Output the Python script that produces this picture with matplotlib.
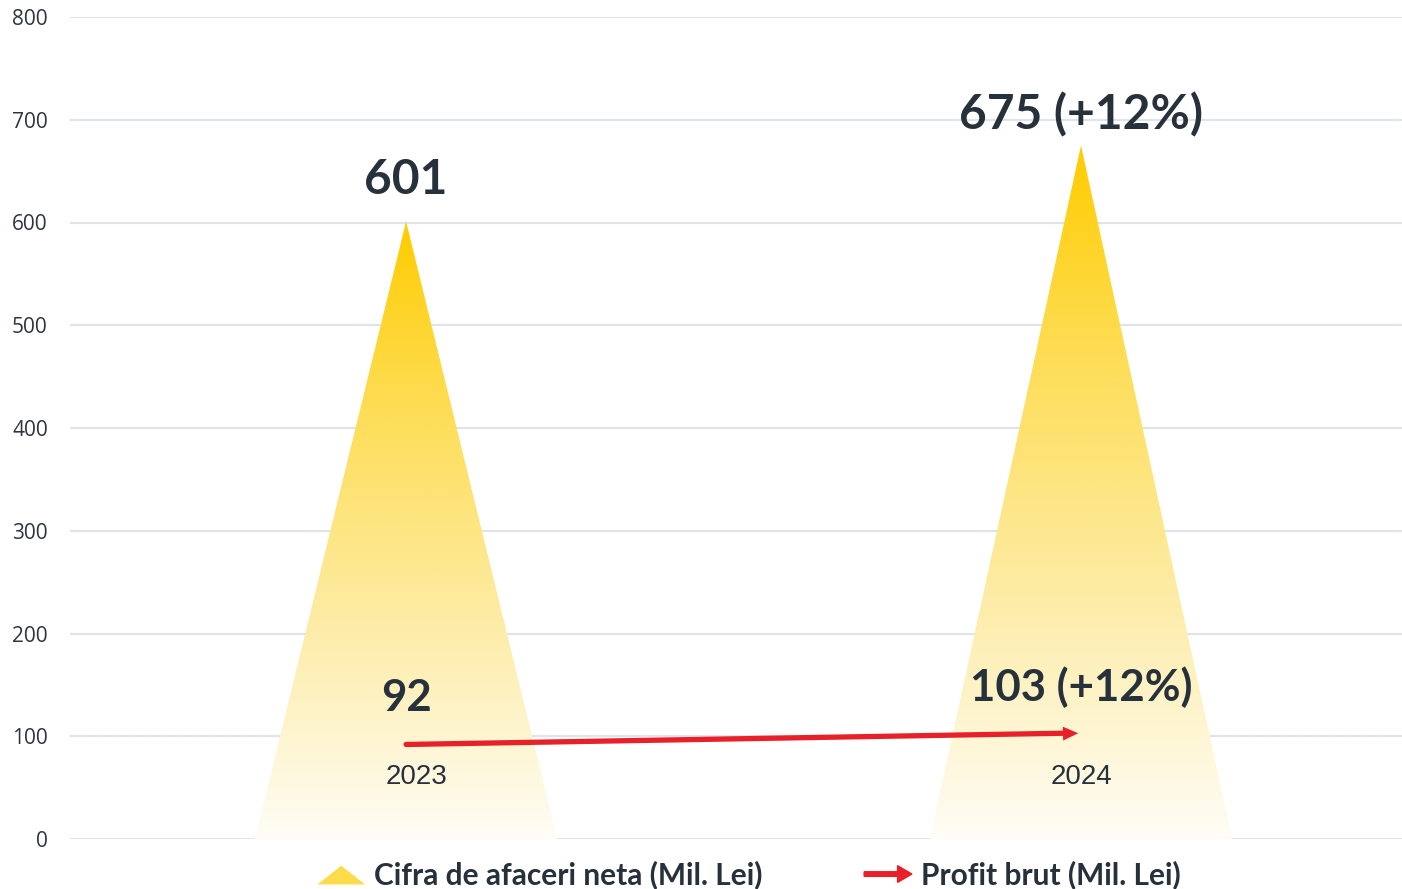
import numpy as np
import matplotlib.pyplot as plt
from matplotlib.patches import Polygon, FancyArrow
from matplotlib.colors import LinearSegmentedColormap
from matplotlib.legend_handler import HandlerPatch

# data
years = ['2023', '2024']
cifra = [601, 675]
profit = [92, 103]
cifra_labels = ['601', '675 (+12%)']
profit_labels = ['92', '103 (+12%)']
yticks = [0, 100, 200, 300, 400, 500, 600, 700, 800]

txt = '#27313b'
fig = plt.figure(figsize=(14.02, 8.89), dpi=100)
ax = fig.add_axes([70 / 1402, 50 / 889, 1332 / 1402, 822 / 889])

cmap = LinearSegmentedColormap.from_list(
    'gold', [(0.0, '#fffdf6'), (0.35, '#fdeca6'), (0.7, '#fddd55'), (1.0, '#ffcc00')])
hw = 0.224
xs = np.arange(len(years))
for x, v in zip(xs, cifra):
    tri = Polygon([(x - hw, 0), (x, v), (x + hw, 0)], closed=True,
                  facecolor='none', edgecolor='none')
    ax.add_patch(tri)
    grad = np.linspace(0, 1, 256).reshape(-1, 1)
    im = ax.imshow(grad, cmap=cmap, origin='lower', aspect='auto',
                   extent=[x - hw, x + hw, 0, v], zorder=1)
    im.set_clip_path(tri)

# profit arrow
ax.plot([xs[0], xs[1] - 0.02], profit, color='#e8202a', lw=3.8,
        solid_capstyle='round', zorder=3)
ax.annotate('', xy=(xs[1], profit[1]), xytext=(xs[1] - 0.03, profit[1] - 0.5),
            arrowprops=dict(arrowstyle='-|>,head_length=1.1,head_width=0.5',
                            color='#e8202a', lw=0), zorder=3)

# labels
for x, v, lab, off in zip(xs, cifra, cifra_labels, [40, 30]):
    ax.text(x, v + off, lab, ha='center', va='center', fontsize=34.5,
            fontweight='bold', family='Lato', color=txt, zorder=4)
for x, v, lab in zip(xs, profit, profit_labels):
    ax.text(x, v + 45, lab, ha='center', va='center', fontsize=31.5,
            fontweight='bold', family='Lato', color=txt, zorder=4)
for x, lab, dx in zip(xs, years, [0.015, 0.0]):
    ax.text(x + dx, 60, lab, ha='center', va='center', fontsize=20,
            family='Liberation Sans', color=txt, zorder=4)

ax.set_xlim(-0.498, 1.4756)
ax.set_ylim(0, 800)
ax.set_yticks(yticks)
ax.set_xticks([])
ax.grid(axis='y', color='#dfe3ea', lw=1.5, zorder=0)
ax.set_axisbelow(True)
for s in ax.spines.values():
    s.set_visible(False)
ax.tick_params(axis='y', length=0, pad=16, labelsize=15, labelcolor='#2d3640')
for t in ax.get_yticklabels():
    t.set_family('Open Sans')


# legend
class TriHandler(HandlerPatch):
    def create_artists(self, legend, orig, xd, yd, w, h, fontsize, trans):
        p = Polygon([(-xd, -yd), (-xd + w / 2, -yd + h * 0.9), (-xd + w, -yd)],
                    facecolor='#fddc4c', edgecolor='none', transform=trans)
        return [p]


class ArrowHandler(HandlerPatch):
    def create_artists(self, legend, orig, xd, yd, w, h, fontsize, trans):
        p = FancyArrow(-xd, h / 2 - yd, w, 0, width=h * 0.22, head_width=h * 0.8,
                       head_length=w * 0.3, length_includes_head=True,
                       color='#e8202a', transform=trans)
        return [p]


h1 = Polygon([(0, 0), (1, 1), (2, 0)])
h2 = FancyArrow(0, 0, 1, 0)
leg = fig.legend([h1, h2], ['Cifra de afaceri neta (Mil. Lei)', 'Profit brut (Mil. Lei)'],
                 handler_map={Polygon: TriHandler(), FancyArrow: ArrowHandler()},
                 loc='center', bbox_to_anchor=(749 / 1402, 14 / 889), ncol=2,
                 frameon=False, handlelength=1.6, handletextpad=0.3, columnspacing=3.4,
                 prop={'family': 'Lato', 'weight': 'bold', 'size': 21.5})
for t in leg.get_texts():
    t.set_color(txt)

fig.savefig('out.png', dpi=100)
